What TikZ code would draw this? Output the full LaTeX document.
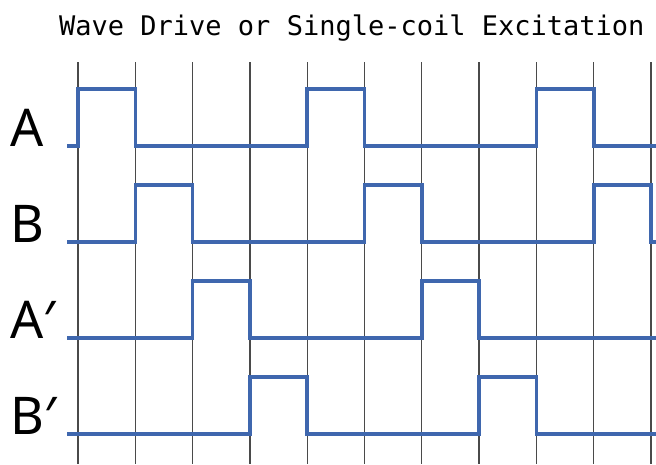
\documentclass[tikz,border=0pt]{standalone}
\usepackage{fontspec}
\usepackage{tikz}
\setmainfont{Noto Sans}
\newfontfamily\titlefont{DejaVu Sans Mono}
\definecolor{WaveBlue}{HTML}{3F67AE}
\definecolor{GridGray}{HTML}{4A4A4A}
\tikzset{
  gridline/.style={GridGray,line width=1.3pt},
  wave/.style={WaveBlue,line width=3.6pt,line join=miter},
  coillabel/.style={anchor=base west,inner sep=0pt,font=\fontsize{52}{52}\selectfont},
  titlelabel/.style={anchor=base west,inner sep=0pt,font=\titlefont\fontsize{27}{27}\selectfont}
}

\begin{document}
\begin{tikzpicture}[x=1pt,y=-1pt]
  \path[use as bounding box,fill=white] (0,0) rectangle (656,464);

  \node[titlelabel] (title) at (59,35) {Wave Drive or Single-coil Excitation};

  % step grid
  \foreach \i in {0,...,10}{
    \draw[gridline] ({78+57.3*\i},62) -- ({78+57.3*\i},464);
  }

  % coil labels
  \node[coillabel] (labA) at (10,146) {A};
  \node[coillabel] (labB) at (10,242) {B};
  \node[coillabel] (labAp) at (10,338) {A′};
  \node[coillabel] (labBp) at (10,434) {B′};

  % one pulse per step, four coils in turn
  \foreach \yl/\pulses in {146/{0,4,8},242/{1,5,9},338/{2,6},434/{3,7}}{
    \draw[wave] (67,\yl)
      \foreach \p in \pulses {
        -- ({78+57.3*\p},\yl) -- ({78+57.3*\p},\yl-57)
        -- ({78+57.3*(\p+1)},\yl-57) -- ({78+57.3*(\p+1)},\yl)
      } -- (656,\yl);
  }
\end{tikzpicture}
\end{document}
